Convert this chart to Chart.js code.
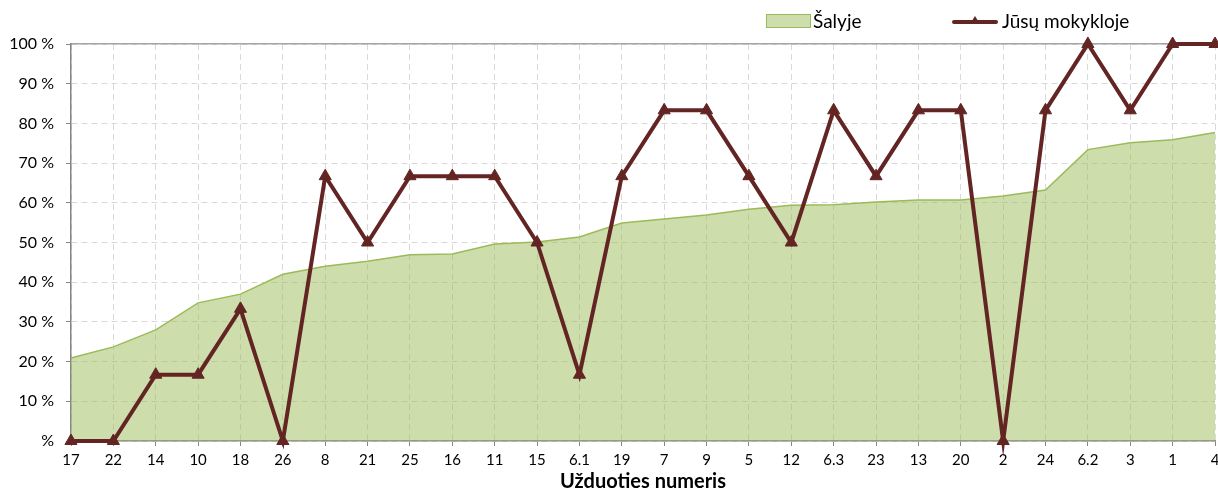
<!DOCTYPE html>
<html>
<head>
<meta charset="utf-8">
<script src="https://cdn.jsdelivr.net/npm/chart.js@4.4.1/dist/chart.umd.min.js"></script>
<style>
	html, body { margin: 0; padding: 0; background: #fff; }
	#wrap { position: relative; width: 1218px; height: 494px; font-family: Lato, 'Noto Sans', sans-serif; color: #000; }
	#chart { position: absolute; left: 0; top: 0; }
	.lg-box { position: absolute; left: 766px; top: 14px; width: 43px; height: 12px; background: rgba(155,187,89,0.5); border: 1px solid #9bbb59; }
	.lg-line { position: absolute; left: 952px; top: 20px; width: 46px; height: 4px; background: #632523; border-radius: 2px; }
	.lg-tri { position: absolute; left: 970px; top: 16px; width: 0; height: 0; border-left: 5px solid transparent; border-right: 5px solid transparent; border-bottom: 8px solid #632523; }
	.lg-text { position: absolute; top: 9px; font-size: 19px; line-height: 24px; white-space: nowrap; }
</style>
</head>
<body>
<div id="wrap">
	<canvas id="chart" width="1218" height="494"></canvas>
	<div class="lg-box"></div>
	<div class="lg-text" style="left:813px">Šalyje</div>
	<div class="lg-line"></div>
	<div class="lg-tri"></div>
	<div class="lg-text" style="left:1002px">Jūsų mokykloje</div>
</div>
<script>
// ── Data ────────────────────────────────────────────────────────────────────

const TASKS = ['17', '22', '14', '10', '18', '26', '8', '21', '25', '16', '11', '15', '6.1', '19',
	'7', '9', '5', '12', '6.3', '23', '13', '20', '2', '24', '6.2', '3', '1', '4']

// country average, %
const COUNTRY = [20.9, 23.7, 28.0, 34.8, 37.0, 42.0, 44.0, 45.3, 46.9, 47.1, 49.6, 50.1, 51.4, 54.9,
	55.9, 56.9, 58.4, 59.4, 59.5, 60.2, 60.7, 60.7, 61.7, 63.2, 73.4, 75.1, 75.9, 77.7]

// your school, %
const SCHOOL = [0, 0, 16.7, 16.7, 33.3, 0, 66.7, 50, 66.7, 66.7, 66.7, 50, 16.7, 66.7,
	83.3, 83.3, 66.7, 50, 83.3, 66.7, 83.3, 83.3, 0, 83.3, 100, 83.3, 100, 100]

const SERIES_NAMES = ['Šalyje', 'Jūsų mokykloje']
const X_TITLE = 'Užduoties numeris'

// ── Chart ───────────────────────────────────────────────────────────────────

const FONT = 'Lato, "Noto Sans", sans-serif'
const GRID = '#d9d9d9'
const AXIS = '#868686'

const ctx = document.getElementById('chart').getContext('2d')
new Chart(ctx, {
	type: 'line',
	data: {
		labels: TASKS,
		datasets: [
			{
				label: SERIES_NAMES[1],
				data: SCHOOL,
				borderColor: '#632523',
				backgroundColor: '#632523',
				borderWidth: 4,
				pointStyle: 'triangle',
				pointRadius: 7,
				pointBorderWidth: 1,
				tension: 0,
				fill: false,
				clip: false,
			},
			{
				label: SERIES_NAMES[0],
				data: COUNTRY,
				borderColor: '#9bbb59',
				backgroundColor: 'rgba(155,187,89,0.5)',
				borderWidth: 1.5,
				pointRadius: 0,
				tension: 0,
				fill: 'origin',
			},
		],
	},
	options: {
		responsive: false,
		animation: false,
		layout: { autoPadding: false, padding: { top: 44, left: 0, right: 3, bottom: 0 } },
		scales: {
			x: {
				offset: false,
				grid: { color: GRID, tickColor: AXIS, tickLength: 5, drawTicks: true },
				border: { color: AXIS, width: 1.5, dash: [6, 4] },
				ticks: { color: '#000', font: { family: FONT, size: 15 }, padding: 5, maxRotation: 0, autoSkip: false },
				title: { display: true, text: X_TITLE, color: '#000', font: { family: FONT, size: 20, weight: 'bold' }, padding: { top: 0, bottom: 0 } },
				afterFit: s => {
					s.paddingLeft = 0
					s.paddingRight = 0
					s.height = 53
				},
			},
			xTop: {
				position: 'top',
				grid: { display: false, drawTicks: false },
				border: { color: '#a6a6a6', width: 1.5 },
				ticks: { display: false },
				afterFit: s => {
					s.height = 0
				},
			},
			y: {
				min: 0,
				max: 100,
				ticks: {
					stepSize: 5,
					color: '#000',
					padding: 12,
					font: { family: FONT, size: 16 },
					callback: v => (v % 10 !== 0 ? '' : v === 0 ? '%' : v + ' %'),
				},
				grid: {
					color: GRID,
					tickLength: 5,
					tickColor: c => (c.tick && c.tick.value % 10 === 0 ? AXIS : 'transparent'),
				},
				border: { color: AXIS, width: 1.5, dash: [6, 4] },
				afterFit: s => {
					s.width = 71
				},
			},
		},
		plugins: {
			legend: { display: false },
			tooltip: { enabled: false },
		},
	},
})
</script>
</body>
</html>
